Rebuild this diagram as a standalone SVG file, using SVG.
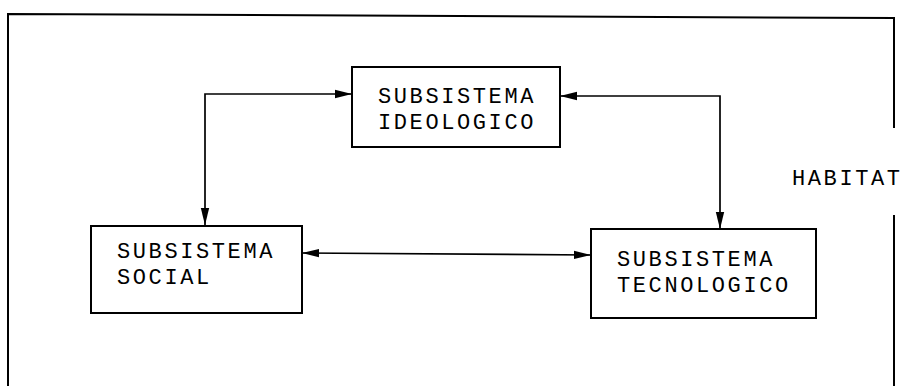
<svg xmlns="http://www.w3.org/2000/svg" width="903" height="386" viewBox="0 0 903 386">
  <style>
    .frame { fill: none; stroke: #000; stroke-width: 2; }
    .box { fill: #fff; stroke: #000; stroke-width: 2; }
    .link { fill: none; stroke: #000; stroke-width: 1.7; marker-start: url(#head); marker-end: url(#head); }
    .label { font-family: "Liberation Mono", "Courier New", monospace; font-size: 22px; letter-spacing: 2.6px; fill: #000; }
  </style>
  <defs>
    <marker id="head" markerUnits="userSpaceOnUse" markerWidth="18" markerHeight="10" refX="17" refY="5" orient="auto-start-reverse">
      <path d="M0,0.8 L17,5 L0,9.2 Z" fill="#000"/>
    </marker>
  </defs>
  <rect width="903" height="386" fill="#fff"/>

  <!-- habitat frame: open at the bottom, broken on the right for its label -->
  <g id="habitat">
    <path class="frame" d="M8,386 V14 L894,18 V128"/>
    <path class="frame" d="M894,215 V386"/>
    <text class="label" x="792" y="185">HABITAT</text>
  </g>

  <!-- connectors -->
  <g id="connectors">
    <path class="link" d="M352,94 H205 V225"/>
    <path class="link" d="M560,96 H720 V229"/>
    <path class="link" d="M302,253 L591,255"/>
  </g>

  <g id="ideologico">
    <rect class="box" x="352" y="67" width="208" height="80"/>
    <text class="label" x="378" y="103">SUBSISTEMA<tspan x="378" dy="26">IDEOLOGICO</tspan></text>
  </g>

  <g id="social">
    <rect class="box" x="91" y="226" width="211" height="87"/>
    <text class="label" x="117" y="258">SUBSISTEMA<tspan x="117" dy="26">SOCIAL</tspan></text>
  </g>

  <g id="tecnologico">
    <rect class="box" x="591" y="229" width="225" height="89"/>
    <text class="label" x="617" y="266">SUBSISTEMA<tspan x="617" dy="26">TECNOLOGICO</tspan></text>
  </g>
</svg>
